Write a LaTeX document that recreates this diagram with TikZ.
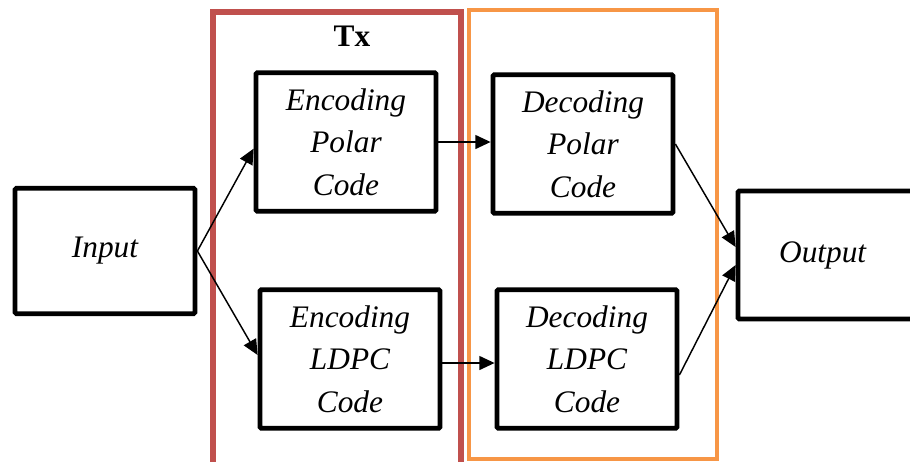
\documentclass[tikz,border=0pt]{standalone}
\usepackage{fontspec}
\setmainfont{Liberation Serif}
\usepackage{tikz}
\usetikzlibrary{arrows.meta, positioning}
\definecolor{txred}{HTML}{C0504D}
\definecolor{rxorange}{HTML}{F79646}
\tikzstyle{block} = [rectangle, rounded corners=1pt, minimum width=135pt, minimum height=104pt, text centered, draw=black, line width=3.6pt, font=\fontsize{23.5}{32}\selectfont\itshape]
\tikzstyle{io} = [block, minimum height=94pt]
\tikzstyle{arrow} = [line width=1.1pt, -{Triangle[length=11.5pt, width=10.5pt]}]
\tikzset{every node/.style={align=center}}

\begin{document}
\begin{tikzpicture}[x=0.75pt, y=-0.75pt]
    \useasboundingbox (0,0) rectangle (910,461);
    % frames
    \draw [txred, line width=4.5pt] (213,480) -- (213,12) -- (461,12) -- (461,480);
    \draw [rxorange, line width=3pt] (469,10) rectangle (717,459);
    \node (tx) at (352,36) {\fontsize{23.5}{28}\selectfont\bfseries Tx};

    \node (input) [io] at (105,251) {Input};
    \node (encpolar) [block] at (346,142) {Encoding\\Polar\\Code};
    \node (encldpc) [block] at (350,359) {Encoding\\LDPC\\Code};
    \node (decpolar) [block] at (583,144) {Decoding\\Polar\\Code};
    \node (decldpc) [block] at (587,359) {Decoding\\LDPC\\Code};
    \node (output) [io, minimum height=96pt] at (828,255) {\hspace*{-8pt}Output};

    \draw [arrow] (input.east) -- ([yshift=-5pt]encpolar.west);
    \draw [arrow] (input.east) -- ([yshift=3pt]encldpc.west);
    \draw [arrow] (encpolar.east) -- (decpolar.west |- encpolar.east);
    \coordinate (ldpcout) at ([yshift=-3pt]encldpc.east);
    \draw [arrow] (ldpcout) -- (decldpc.west |- ldpcout);
    \draw [arrow] (decpolar.east) -- ([yshift=6pt]output.west);
    \draw [arrow] ([yshift=-12pt]decldpc.east) -- ([yshift=-7.5pt]output.west);
\end{tikzpicture}
\end{document}
